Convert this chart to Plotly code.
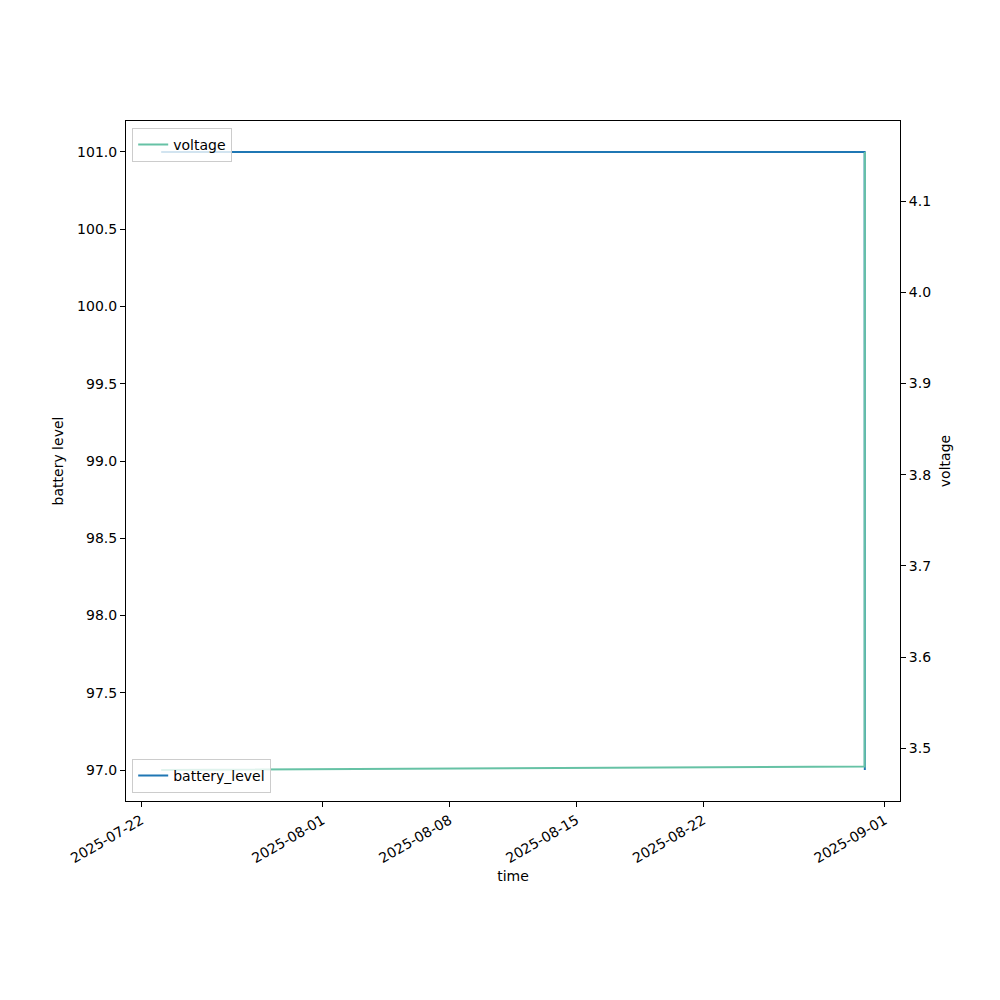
import plotly.graph_objects as go
import pandas as pd

# Data
times = ["2025-07-23 02:24", "2025-08-30 21:30", "2025-08-30 21:45"]
battery_level = [101, 101, 97]
voltage = [3.476, 3.480, 4.154]
tick_dates = ["2025-07-22", "2025-08-01", "2025-08-08", "2025-08-15", "2025-08-22", "2025-09-01"]

BLUE = "#1f77b4"
GREEN = "#66c2a5"
FONT = "DejaVu Sans"
FS = 14

t = pd.to_datetime(times)
span = t.max() - t.min()
xr = [t.min() - span * 0.05, t.max() + span * 0.05]

def pad(vals):
    lo, hi = min(vals), max(vals)
    d = (hi - lo) * 0.05
    return [lo - d, hi + d]

fig = go.Figure()
fig.add_trace(go.Scatter(x=t, y=battery_level, mode="lines", name="battery_level",
                         line=dict(color=BLUE, width=2), legend="legend2", yaxis="y",
                         showlegend=True))
fig.add_trace(go.Scatter(x=t, y=voltage, mode="lines", name="voltage",
                         line=dict(color=GREEN, width=2), legend="legend", yaxis="y2",
                         showlegend=True))

axis_common = dict(showline=True, linecolor="black", linewidth=1, ticks="outside",
                   ticklen=5, tickcolor="black", tickfont=dict(size=FS, color="black", family=FONT),
                   showgrid=False, zeroline=False)

fig.update_layout(
    width=1000, height=1000,
    margin=dict(l=118, r=108, t=113, b=207),
    paper_bgcolor="white", plot_bgcolor="white",
    showlegend=True,
    font=dict(family=FONT, size=FS, color="black"),
    xaxis=dict(**axis_common, mirror=True, range=xr,
               tickvals=pd.to_datetime(tick_dates), ticktext=tick_dates, tickangle=-30,
               title=dict(text="time", font=dict(size=FS, family=FONT), standoff=6)),
    yaxis=dict(**axis_common, mirror=True, range=pad(battery_level),
               tickformat=".1f", dtick=0.5,
               title=dict(text="battery level", font=dict(size=FS, family=FONT), standoff=10)),
    yaxis2=dict(**axis_common, overlaying="y", side="right", range=pad(voltage),
                tickformat=".1f", dtick=0.1,
                title=dict(text="voltage", font=dict(size=FS, family=FONT), standoff=10)),
    legend=dict(x=0.008, y=0.99, xanchor="left", yanchor="top",
                bgcolor="rgba(255,255,255,0.8)", bordercolor="#cccccc", borderwidth=1,
                font=dict(size=FS, family=FONT)),
    legend2=dict(x=0.008, y=0.012, xanchor="left", yanchor="bottom",
                 bgcolor="rgba(255,255,255,0.8)", bordercolor="#cccccc", borderwidth=1,
                 font=dict(size=FS, family=FONT)),
)

fig.write_html("out.html")
